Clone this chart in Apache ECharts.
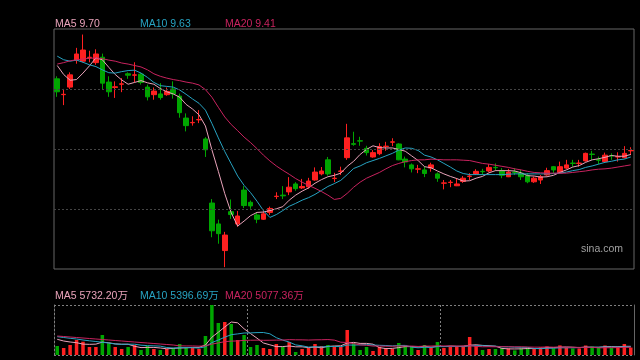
<!DOCTYPE html>
<html>
<head>
<meta charset="utf-8">
<script src="https://cdn.jsdelivr.net/npm/echarts/dist/echarts.min.js"></script>
<style>
html,body{margin:0;padding:0;background:#000;}
#main{width:640px;height:360px;}
</style>
</head>
<body>
<div id="main"></div>
<script>
// ---- price data (daily candles) ----
const open = [
11.80,11.36,11.57,12.32,12.29,12.39,12.25,12.40,11.71,11.56,
11.65,11.94,11.90,11.93,11.57,11.36,11.38,11.36,11.52,11.32,
10.71,10.58,10.66,10.13,8.35,7.77,7.03,8.11,7.77,8.71,
8.37,8.02,7.90,8.09,8.53,8.57,8.66,8.88,8.77,8.80,
8.99,9.16,9.55,9.03,9.23,9.61,10.00,10.08,9.87,9.63,
9.72,9.92,10.04,9.99,9.57,9.41,9.29,9.27,9.32,9.16,
8.90,8.92,8.83,8.95,9.09,9.16,9.23,9.24,9.34,9.24,
9.08,9.21,9.18,9.11,8.94,8.99,9.13,9.36,9.19,9.32,
9.46,9.45,9.52,9.71,9.55,9.50,9.67,9.63,9.61,9.80];
const close = [
11.44,11.37,11.91,12.49,12.60,12.40,12.49,11.68,11.44,11.58,
11.66,11.90,11.91,11.70,11.30,11.46,11.28,11.45,11.38,10.86,
10.50,10.59,10.67,9.83,7.58,7.50,7.46,8.03,7.99,8.28,
8.27,7.90,8.05,8.20,8.54,8.55,8.79,8.75,8.81,8.96,
9.21,9.24,9.16,9.04,9.24,10.16,9.98,10.07,9.75,9.75,
9.92,9.93,10.05,9.55,9.49,9.30,9.30,9.17,9.41,9.04,
8.91,8.93,8.88,9.04,9.10,9.23,9.22,9.34,9.33,9.12,
9.21,9.20,9.08,8.94,9.04,9.08,9.25,9.27,9.36,9.41,
9.45,9.46,9.73,9.70,9.54,9.68,9.66,9.64,9.73,9.81];
const low = [
11.30,11.07,11.52,12.22,12.26,12.26,12.19,11.50,11.30,11.27,
11.43,11.80,11.70,11.64,11.20,11.22,11.22,11.33,11.25,10.72,
10.34,10.50,10.57,9.63,7.40,7.22,6.57,7.91,7.69,8.21,
8.19,7.79,7.88,8.02,8.46,8.46,8.57,8.69,8.74,8.75,
8.97,9.12,9.11,8.93,9.13,9.55,9.94,9.94,9.67,9.61,
9.68,9.80,9.93,9.54,9.34,9.20,9.18,9.07,9.22,8.94,
8.73,8.79,8.82,8.91,8.99,9.13,9.13,9.21,9.24,9.04,
9.07,9.13,8.99,8.90,8.91,8.88,9.11,9.18,9.18,9.29,
9.36,9.36,9.50,9.55,9.43,9.48,9.55,9.50,9.59,9.68];
const high = [
11.87,11.52,11.98,12.66,13.03,12.58,12.62,12.50,11.87,11.73,
11.82,11.98,12.26,11.96,11.64,11.56,11.68,11.56,11.73,11.39,
10.84,10.76,10.93,10.18,8.46,7.89,7.55,8.45,8.13,8.82,
8.42,8.08,8.14,8.25,8.65,8.82,9.07,8.93,9.02,9.05,
9.34,9.35,9.63,9.19,9.36,10.55,10.33,10.19,9.94,9.82,
10.01,10.05,10.15,10.01,9.64,9.45,9.41,9.37,9.47,9.20,
8.99,8.99,9.04,9.10,9.18,9.29,9.30,9.43,9.45,9.32,
9.30,9.32,9.27,9.18,9.08,9.13,9.33,9.38,9.50,9.55,
9.55,9.55,9.75,9.80,9.64,9.75,9.73,9.76,9.93,9.90];
const ma5 = [
12.17,11.92,11.76,11.78,11.96,12.16,12.38,12.33,12.12,11.92,
11.77,11.65,11.70,11.75,11.69,11.65,11.53,11.44,11.38,11.29,
11.09,10.96,10.80,10.49,9.83,9.23,8.61,8.08,7.71,7.85,
8.00,8.09,8.10,8.14,8.19,8.25,8.43,8.57,8.68,8.77,
8.90,9.00,9.08,9.12,9.18,9.37,9.51,9.70,9.84,9.94,
9.89,9.88,9.88,9.84,9.79,9.66,9.53,9.36,9.33,9.24,
9.16,9.09,9.03,8.96,8.97,9.04,9.09,9.19,9.25,9.25,
9.25,9.24,9.19,9.11,9.10,9.07,9.08,9.12,9.20,9.27,
9.35,9.39,9.48,9.55,9.58,9.62,9.67,9.65,9.65,9.70];
const ma10 = [
12.43,12.33,12.29,12.32,12.26,12.19,12.14,12.05,11.97,11.96,
12.00,12.03,12.04,11.96,11.84,11.70,11.61,11.59,11.57,11.49,
11.37,11.24,11.12,10.93,10.56,10.16,9.78,9.44,9.10,8.84,
8.64,8.40,8.14,7.95,8.03,8.14,8.26,8.34,8.43,8.50,
8.59,8.70,8.81,8.89,8.98,9.14,9.31,9.38,9.47,9.53,
9.59,9.66,9.73,9.82,9.88,9.87,9.81,9.68,9.63,9.55,
9.45,9.35,9.24,9.17,9.14,9.14,9.14,9.14,9.14,9.14,
9.15,9.16,9.16,9.16,9.16,9.16,9.16,9.17,9.18,9.21,
9.25,9.28,9.34,9.38,9.43,9.48,9.51,9.55,9.57,9.63];
const ma20 = [
12.21,12.25,12.30,12.33,12.35,12.37,12.38,12.36,12.32,12.29,
12.24,12.21,12.17,12.13,12.05,11.94,11.87,11.82,11.78,11.75,
11.71,11.68,11.63,11.50,11.29,11.01,10.74,10.53,10.36,10.18,
10.03,9.86,9.68,9.52,9.38,9.26,9.15,9.03,8.93,8.84,
8.76,8.67,8.57,8.45,8.48,8.62,8.79,8.93,9.04,9.12,
9.20,9.30,9.39,9.45,9.50,9.53,9.55,9.55,9.57,9.56,
9.55,9.55,9.55,9.54,9.53,9.49,9.45,9.43,9.40,9.37,
9.34,9.30,9.27,9.23,9.20,9.19,9.18,9.18,9.18,9.18,
9.20,9.22,9.24,9.27,9.29,9.30,9.32,9.35,9.38,9.41];

// ---- volume data (万) ----
const vol = [
5940,4620,6600,9900,8780,5280,5280,13200,7720,5280,
3960,5280,6600,3300,5940,3960,3300,3960,4620,7260,
4620,4620,3960,12540,33000,21120,21780,20460,9900,13200,
5280,6600,4620,3960,7260,5280,8580,1980,3960,4620,
7260,5940,6600,5280,5280,16500,7920,3300,5280,2640,
5280,4620,3960,7920,5940,5280,3300,6600,4620,8580,
4620,5280,5280,5280,11880,5940,3300,3960,3960,4620,
4360,3040,4360,5020,4360,5020,5680,4360,6340,5040,
4290,4290,6270,5600,4850,6270,4620,5610,7260,4900];
const volMa5 = [
10360,9240,8580,8120,7168,7036,7168,8488,8052,7352,
7088,7088,5768,4884,5016,5016,4620,4092,4356,4620,
4752,5016,5016,6600,11748,15048,18480,21780,21252,17292,
14124,11088,7920,6732,5544,5544,5940,5412,5412,4884,
5280,4752,5676,5940,6072,7920,8316,7656,7656,7128,
4884,4224,4356,4884,5544,5544,5280,5808,5148,5676,
5544,5940,5676,5808,6468,6732,6336,6072,5808,4356,
4040,3988,4068,4280,4228,4360,4888,4888,5152,5288,
5142,4864,5246,5098,5060,5456,5522,5390,5722,5732.20];
const volMa10 = [
12080,11550,11020,10560,9900,9370,8910,8380,7920,7260,
7062,7128,7128,6468,6184,6052,5854,4930,4620,4818,
4884,4818,4554,5478,8184,9900,11748,13398,13926,14520,
14586,14784,14850,13992,11418,9834,8514,6666,6072,5214,
5412,5346,5544,5676,5478,6600,6534,6666,6798,6600,
6402,6270,6006,6270,6336,5214,4752,5082,5016,5610,
5544,5610,5742,5478,6072,6138,6138,5874,5808,5412,
5386,5162,5070,5044,4292,4200,4438,4478,4716,4758,
4751,4876,5067,5125,5174,5299,5193,5318,5412,5396.69];
const volMa20 = [
12540,12210,11880,11550,11220,10890,10560,10230,9900,9570,
9240,8910,8580,8250,7920,7590,7260,6930,6600,6039,
5973,5973,5841,5973,7184,7976,8801,9164,9273,9669,
9735,9801,9702,9735,9801,9867,10131,10032,9999,9867,
9999,10065,10197,9834,8448,8217,7524,6666,6435,5907,
5907,5808,5775,5973,5907,5907,5643,5874,5907,6105,
5973,5940,5874,5874,6204,5676,5445,5478,5412,5511,
5465,5386,5406,5261,5182,5169,5288,5176,5262,5085,
5069,5019,5069,5085,4733,4750,4816,4898,5063,5077.36];

const days = open.map((_, i) => String(i + 1));

// ---- styling ----
const UP = '#ff2020', DOWN = '#00a600';
const C5 = '#e9a3ba', C10 = '#27a3c2', C20 = '#c9235f';
const FONT = '"Liberation Sans", Arial, "Noto Sans CJK SC", sans-serif';
const priceMin = 6.518, priceMax = 13.184;
const volMax = 33000;

const candleData = open.map((o, i) => [o, close[i], low[i], high[i]]);
const volData = vol.map((v, i) => ({
  value: v,
  itemStyle: { color: close[i] >= open[i] ? UP : DOWN }
}));
const gridVals = [1, 2, 3].map(k => priceMin + (priceMax - priceMin) * k / 4);

const last = a => a[a.length - 1];
const lineS = (name, data, color, xi, yi) => ({
  name, type: 'line', data, xAxisIndex: xi, yAxisIndex: yi,
  showSymbol: false, symbol: 'none', smooth: false, silent: true,
  lineStyle: { color, width: 1 }, z: 3
});

const chart = echarts.init(document.getElementById('main'));
chart.setOption({
  backgroundColor: '#000',
  animation: false,
  grid: [
    { left: 54, top: 29, width: 580, height: 240, show: true, borderColor: '#666', borderWidth: 1, backgroundColor: 'transparent' },
    { left: 54, top: 305, width: 580, height: 50, show: false }
  ],
  xAxis: [
    { type: 'category', gridIndex: 0, data: days, boundaryGap: true,
      axisLine: { show: false }, axisTick: { show: false }, axisLabel: { show: false }, splitLine: { show: false } },
    { type: 'category', gridIndex: 1, data: days, boundaryGap: true,
      axisLine: { show: false }, axisTick: { show: false }, axisLabel: { show: false },
      splitLine: { show: true, interval: (i) => i === 30 || i === 60, lineStyle: { color: '#808080', type: [2, 2], width: 1 } } }
  ],
  yAxis: [
    { type: 'value', gridIndex: 0, min: priceMin, max: priceMax,
      axisLine: { show: false }, axisTick: { show: false }, axisLabel: { show: false }, splitLine: { show: false } },
    { type: 'value', gridIndex: 1, min: 0, max: volMax, interval: volMax,
      axisLine: { show: true, lineStyle: { color: '#808080', type: [2, 2], width: 1 } },
      axisTick: { show: false }, axisLabel: { show: false },
      splitLine: { show: true, lineStyle: { color: '#808080', type: [2, 2], width: 1 } } },
    { type: 'value', gridIndex: 1, position: 'right', min: 0, max: volMax,
      axisLine: { show: true, lineStyle: { color: '#666', width: 1 } },
      axisTick: { show: false }, axisLabel: { show: false }, splitLine: { show: false } }
  ],
  series: [
    { type: 'line', xAxisIndex: 0, yAxisIndex: 0, data: close, silent: true, z: 1,
      showSymbol: false, symbol: 'none', lineStyle: { opacity: 0 },
      markLine: { silent: true, symbol: 'none', label: { show: false },
        lineStyle: { color: '#444', type: [2, 2], width: 1 },
        data: gridVals.map(v => ({ yAxis: v })) } },
    { type: 'candlestick', xAxisIndex: 0, yAxisIndex: 0, data: candleData, barWidth: 5, silent: true, z: 2,
      itemStyle: { color: UP, color0: DOWN, borderColor: UP, borderColor0: DOWN, borderWidth: 1 } },
    lineS('MA5', ma5, C5, 0, 0),
    lineS('MA10', ma10, C10, 0, 0),
    lineS('MA20', ma20, C20, 0, 0),
    { type: 'bar', xAxisIndex: 1, yAxisIndex: 1, data: volData, barWidth: 3.5, silent: true, z: 2 },
    lineS('VMA5', volMa5, C5, 1, 1),
    lineS('VMA10', volMa10, C10, 1, 1),
    lineS('VMA20', volMa20, C20, 1, 1)
  ],
  graphic: [
    { type: 'text', x: 55, y: 24.5, style: { text: 'MA5 ' + last(ma5).toFixed(2), fill: C5, font: '10.5px ' + FONT, verticalAlign: 'middle' } },
    { type: 'text', x: 140, y: 24.5, style: { text: 'MA10 ' + last(ma10).toFixed(2), fill: C10, font: '10.5px ' + FONT, verticalAlign: 'middle' } },
    { type: 'text', x: 225, y: 24.5, style: { text: 'MA20 ' + last(ma20).toFixed(2), fill: C20, font: '10.5px ' + FONT, verticalAlign: 'middle' } },
    { type: 'text', x: 55, y: 296, style: { text: 'MA5 ' + last(volMa5).toFixed(2) + '万', fill: C5, font: '10.5px ' + FONT, verticalAlign: 'middle' } },
    { type: 'text', x: 140, y: 296, style: { text: 'MA10 ' + last(volMa10).toFixed(2) + '万', fill: C10, font: '10.5px ' + FONT, verticalAlign: 'middle' } },
    { type: 'text', x: 225, y: 296, style: { text: 'MA20 ' + last(volMa20).toFixed(2) + '万', fill: C20, font: '10.5px ' + FONT, verticalAlign: 'middle' } },
    { type: 'text', x: 623, y: 249, style: { text: 'sina.com', fill: '#a0a0a0', font: '10.5px ' + FONT, align: 'right', verticalAlign: 'middle' } }
  ]
});
</script>
</body>
</html>
